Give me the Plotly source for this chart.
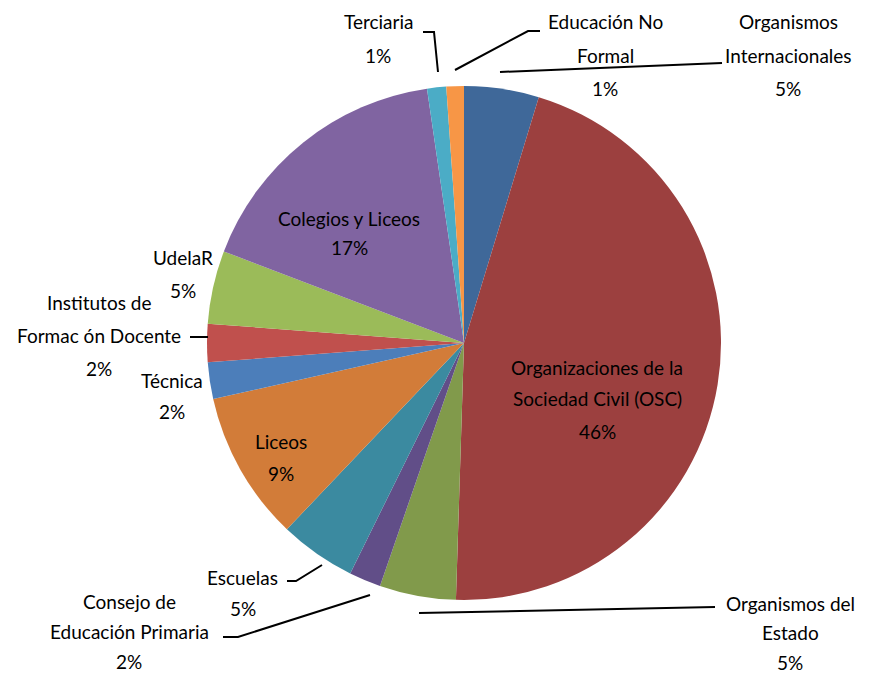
import plotly.graph_objects as go

# The page body adds an 8px margin at the top/left, so shift the figure accordingly.
OFF = 8
W, H = 873 - OFF, 675 - OFF

categories = ["Organismos Internacionales", "Organizaciones de la Sociedad Civil (OSC)",
              "Organismos del Estado", "Consejo de Educación Primaria", "Escuelas",
              "Liceos", "Técnica", "Institutos de Formación Docente", "UdelaR",
              "Colegios y Liceos", "Terciaria", "Educación No Formal"]
values = [4.7, 45.8, 4.8, 2.0, 4.8, 9.4, 2.3, 2.4, 4.6, 16.9, 1.2, 1.1]
colors = ["#3F6899", "#9C403F", "#819A4B", "#614E88", "#3B8AA0", "#D27C39",
          "#4C7EBA", "#C0504D", "#9BBB59", "#8064A1", "#4BACC6", "#F79646"]
# displayed label lines (as shown on the chart)
label_lines = [["Organismos", "Internacionales"], ["Organizaciones de la", "Sociedad Civil (OSC)"],
               ["Organismos del", "Estado"], ["Consejo de", "Educación Primaria"], ["Escuelas"],
               ["Liceos"], ["Técnica"], ["Institutos de", "Formac ón Docente"], ["UdelaR"],
               ["Colegios y Liceos"], ["Terciaria"], ["Educación No", "Formal"]]

total = sum(values)
pct_text = [f"{round(v / total * 100)}%" for v in values]

# label anchor (center x, first-line y) in window pixels
label_pos = [(788, 22), (597, 367), (790, 603), (129, 601), (243, 577), (281, 441),
             (172, 380), (99, 302), (183, 258), (349, 218), (378, 22), (605, 22)]
line_gap = [33, 32, 29.5, 30, 31, 32, 31, 33, 32, 29, 33, 33]
# leader lines (window-pixel polylines)
leaders = {
    0: [(722, 63), (500, 72)],
    2: [(715, 607), (419, 613)],
    3: [(223, 637), (238, 637), (370, 595)],
    4: [(287, 581), (296, 581), (322, 565)],
    7: [(190, 337), (208, 337)],
    10: [(423, 32), (434, 32), (438, 72)],
    11: [(540, 31), (528, 31), (455, 70)],
}

def px(x):
    return (x - OFF) / W

def py(y):
    return 1 - (y - OFF) / H

cx, cy, r = 464, 343, 257

fig = go.Figure(go.Pie(
    labels=categories, values=values, sort=False, direction="clockwise",
    rotation=0, marker=dict(colors=colors, line=dict(width=0)),
    textinfo="none", hoverinfo="label+percent", showlegend=False,
    domain=dict(x=[px(cx - r), px(cx + r)], y=[py(cy + r), py(cy - r)]),
))

annotations = []
for i, lines in enumerate(label_lines):
    x0, y0 = label_pos[i]
    all_lines = lines + [pct_text[i]]
    for k, t in enumerate(all_lines):
        annotations.append(dict(
            x=px(x0), y=py(y0 + k * line_gap[i]), xref="paper", yref="paper",
            text=t, showarrow=False, xanchor="center", yanchor="middle",
            font=dict(family="Lato", size=19, color="#000000"),
        ))

shapes = []
for i, pts in leaders.items():
    path = "M " + " L ".join(f"{px(x)},{py(y)}" for x, y in pts)
    shapes.append(dict(type="path", path=path, xref="paper", yref="paper",
                       line=dict(color="#000000", width=2)))

fig.update_layout(
    width=W, height=H, margin=dict(l=0, r=0, t=0, b=0),
    paper_bgcolor="white", plot_bgcolor="white",
    annotations=annotations, shapes=shapes,
)

fig.write_html("out.html")
